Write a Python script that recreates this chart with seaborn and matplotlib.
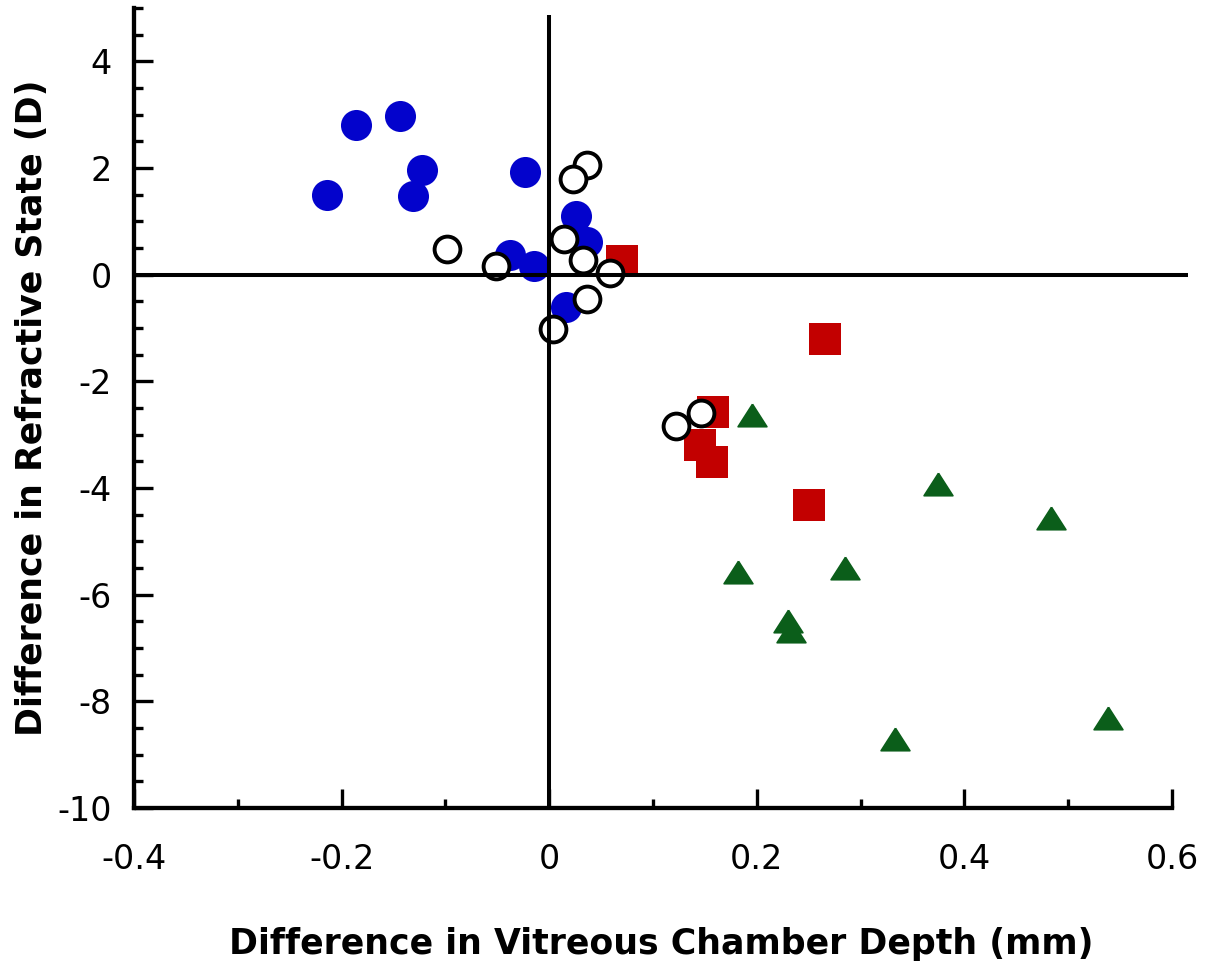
import matplotlib
matplotlib.use("Agg")
import matplotlib.pyplot as plt
from matplotlib.ticker import MultipleLocator
import seaborn as sns

# Differences in vitreous chamber depth (mm) and refractive state (D)
filled_circle_x = [-0.214, -0.186, -0.144, -0.123, -0.131, -0.023, 0.026, 0.036, -0.038, -0.015, 0.016]
filled_circle_y = [1.50, 2.80, 2.98, 1.97, 1.48, 1.92, 1.10, 0.62, 0.37, 0.17, -0.60]

open_circle_x = [0.036, 0.023, -0.098, -0.051, 0.014, 0.033, 0.059, 0.036, 0.004, 0.146, 0.122]
open_circle_y = [2.05, 1.80, 0.49, 0.17, 0.67, 0.28, 0.03, -0.45, -1.01, -2.60, -2.83]

square_x = [0.070, 0.266, 0.158, 0.145, 0.157, 0.250]
square_y = [0.25, -1.20, -2.57, -3.20, -3.51, -4.32]

triangle_x = [0.195, 0.375, 0.483, 0.182, 0.285, 0.230, 0.233, 0.333, 0.538]
triangle_y = [-2.63, -3.93, -4.56, -5.57, -5.50, -6.50, -6.69, -8.70, -8.32]

x_ticks = [-0.4, -0.2, 0, 0.2, 0.4, 0.6]
x_tick_labels = ["-0.4", "-0.2", "0", "0.2", "0.4", "0.6"]
y_ticks = [-10, -8, -6, -4, -2, 0, 2, 4]
y_tick_labels = ["-10", "-8", "-6", "-4", "-2", "0", "2", "4"]

x_label = "Difference in Vitreous Chamber Depth (mm)"
y_label = "Difference in Refractive State (D)"

sns.set_theme(style="white")
plt.rcParams["font.family"] = ["DejaVu Sans"]
plt.rcParams["text.color"] = "black"
plt.rcParams["axes.labelcolor"] = "black"

fig = plt.figure(figsize=(12.17, 9.68), dpi=100)
ax = fig.add_axes([0.1101, 0.1653, 0.8657, 0.8264])

blue = "#0303CC"
red = "#C20000"
green = "#0B5E1A"

# wide, flat triangle marker
tri = [(0.0, 0.78), (-1.0, -0.78), (1.0, -0.78), (0.0, 0.78)]

sns.scatterplot(x=filled_circle_x, y=filled_circle_y, ax=ax, marker="o", s=500,
                color=blue, linewidth=0, zorder=3)
sns.scatterplot(x=square_x, y=square_y, ax=ax, marker="s", s=510,
                color=red, linewidth=0, zorder=3)
sns.scatterplot(x=triangle_x, y=triangle_y, ax=ax, marker=tri, s=430,
                color=green, edgecolor=green, linewidth=1.2, zorder=3)
sns.scatterplot(x=open_circle_x, y=open_circle_y, ax=ax, marker="o", s=345,
                facecolor="white", edgecolor="black", linewidth=2.8, zorder=4)

# zero reference lines
ax.axhline(0, color="black", lw=2.9, zorder=5)
ax.vlines(0, -10, 4.87, color="black", lw=2.9, zorder=5)

ax.set_xlim(-0.4, 0.615)
ax.set_ylim(-10, 5)

ax.xaxis.set_minor_locator(MultipleLocator(0.1))
ax.yaxis.set_minor_locator(MultipleLocator(0.5))
ax.set_xticks(x_ticks)
ax.set_xticklabels(x_tick_labels)
ax.set_yticks(y_ticks)
ax.set_yticklabels(y_tick_labels)

for side in ["top", "right"]:
    ax.spines[side].set_visible(False)
for side in ["left", "bottom"]:
    ax.spines[side].set_linewidth(3.1)
    ax.spines[side].set_color("black")
ax.spines["left"].set_bounds(-10, 5)
ax.spines["bottom"].set_bounds(-0.4, 0.6)

ax.tick_params(which="major", direction="in", length=13.5, width=2.4, color="black",
               labelsize=24, labelcolor="black")
ax.tick_params(which="minor", direction="in", length=6.5, width=2.4, color="black")
ax.tick_params(axis="x", which="both", bottom=True, pad=25.5)
ax.tick_params(axis="y", which="both", left=True, pad=16)

label_font = dict(family=["DejaVu Sans"], weight="bold", size=25, color="black")
ax.set_xlabel(x_label, **label_font)
ax.set_ylabel(y_label, **label_font)
ax.xaxis.set_label_coords(0.5, -0.1488)
ax.yaxis.set_label_coords(-0.0806, 0.5)

fig.savefig("out.png", dpi=100, facecolor="white")
